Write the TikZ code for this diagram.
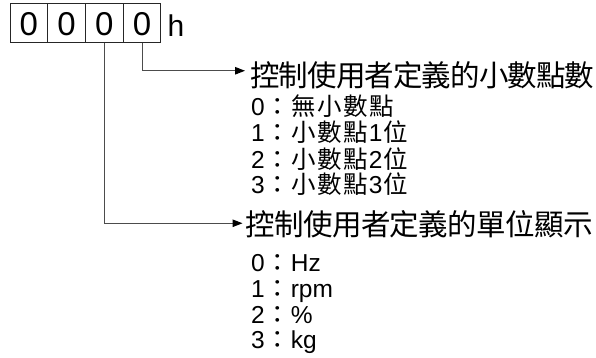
\documentclass[tikz,border=0pt]{standalone}
\usepackage{fontspec}
\setmainfont{Liberation Sans}
\newfontfamily\cjk{Noto Sans CJK TC}
\usetikzlibrary{arrows.meta}
\newlength\cwd
\newcommand\cb[1]{\makebox[\cwd][c]{\cjk #1}}
\def\spcloop#1{\ifx#1\relax\else\cb{#1}\expandafter\spcloop\fi}
\newcommand\spaced[2]{\setlength\cwd{#1}\spcloop#2\relax}
\begin{document}
\begin{tikzpicture}[x=1pt,y=-1pt,
  dbox/.style={draw=black!85,line width=1pt,minimum width=37.75pt,minimum height=39pt,inner sep=0pt,outer sep=0pt},
  digit/.style={anchor=base,inner sep=0pt,font=\fontsize{33}{35}\selectfont},
  head/.style={anchor=base west,inner sep=0pt,font=\fontsize{29.5}{32}\selectfont},
  item/.style={anchor=base west,inner sep=0pt,font=\fontsize{24.5}{26}\selectfont},
  conn/.style={draw=black!70,line width=1pt,-{Triangle[length=10pt,width=7.5pt,color=black]}}]
\useasboundingbox (0,0) rectangle (596,358);
\node[dbox] (b1) at (28.9,23.5) {};
\node[dbox] (b2) at (66.6,23.5) {};
\node[dbox] (b3) at (104.4,23.5) {};
\node[dbox] (b4) at (142.1,23.5) {};
\node[digit] (d1) at (28.9,36) {0};
\node[digit] (d2) at (66.6,36) {0};
\node[digit] (d3) at (104.4,36) {0};
\node[digit] (d4) at (142.1,36) {0};
\node[anchor=base west,inner sep=0pt,font=\fontsize{30}{32}\selectfont] (h) at (167.5,36.5) {h};
\node[head] (t1) at (250.5,86.5) {\spaced{28.6pt}{控制使用者定義的小數點數}};
\node[head] (t2) at (245.5,235.5) {\spaced{28.9pt}{控制使用者定義的單位顯示}};
\setlength\cwd{26pt}
\node[item] (a0) at (251,116) {0\cb{：}\cb{無}\cb{小}\cb{數}\cb{點}};
\node[item] (a1) at (251,142) {1\cb{：}\cb{小}\cb{數}\cb{點}1\cb{位}};
\node[item] (a2) at (251,168) {2\cb{：}\cb{小}\cb{數}\cb{點}2\cb{位}};
\node[item] (a3) at (251,193.5) {3\cb{：}\cb{小}\cb{數}\cb{點}3\cb{位}};
\node[item] (u0) at (251,271) {0\cb{：}Hz};
\node[item] (u1) at (251,297.5) {1\cb{：}rpm};
\node[item] (u2) at (251,323) {2\cb{：}\%};
\node[item] (u3) at (251,348.5) {3\cb{：}kg};
\draw[conn,shorten >=5.5pt] (b4.south) |- ([yshift=4.5pt]t1.west);
\draw[conn,shorten >=3pt] (b3.south) |- ([yshift=1pt]t2.west);
\end{tikzpicture}
\end{document}
